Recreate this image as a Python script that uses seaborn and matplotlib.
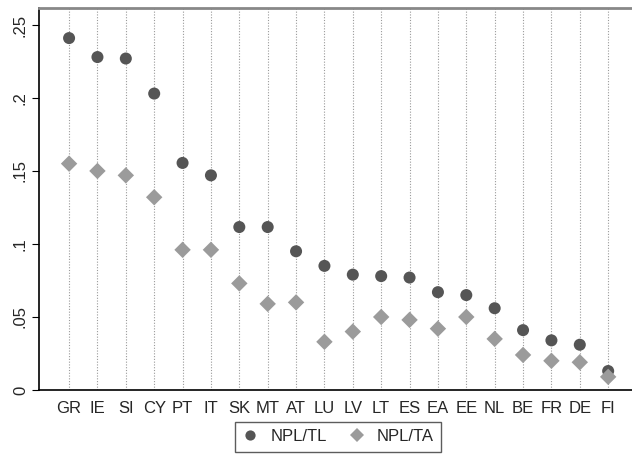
import pandas as pd
import matplotlib
matplotlib.use('Agg')
import matplotlib.pyplot as plt
import seaborn as sns

# 数据
countries = ['GR', 'IE', 'SI', 'CY', 'PT', 'IT', 'SK', 'MT', 'AT', 'LU',
             'LV', 'LT', 'ES', 'EA', 'EE', 'NL', 'BE', 'FR', 'DE', 'FI']
npl_tl = [0.241, 0.228, 0.227, 0.203, 0.1555, 0.147, 0.1116, 0.1116, 0.095, 0.085,
          0.079, 0.078, 0.077, 0.067, 0.065, 0.056, 0.041, 0.034, 0.031, 0.013]
npl_ta = [0.155, 0.150, 0.147, 0.132, 0.096, 0.096, 0.073, 0.059, 0.060, 0.033,
          0.040, 0.050, 0.048, 0.042, 0.050, 0.035, 0.024, 0.020, 0.019, 0.009]
yticks = [0, 0.05, 0.1, 0.15, 0.2, 0.25]
ytick_labels = ['0', '.05', '.1', '.15', '.2', '.25']

df = pd.DataFrame({'country': countries, 'NPL/TL': npl_tl, 'NPL/TA': npl_ta})
long_df = df.melt(id_vars='country', var_name='series', value_name='value')
long_df['pos'] = long_df['country'].map({c: i for i, c in enumerate(countries)})

sns.set_style('white')
plt.rcParams['font.family'] = ['Liberation Sans', 'DejaVu Sans']

fig = plt.figure(figsize=(6.32, 4.54), dpi=100)
ax = fig.add_axes([39 / 632, 64 / 454, 593 / 632, 382 / 454])

# 竖向点线
for i in range(len(countries)):
    ax.axvline(i, color='#9a9a9a', linestyle=(0, (1, 1.5)), linewidth=0.8, zorder=0)

sns.scatterplot(data=long_df, x='pos', y='value', hue='series', style='series',
                palette={'NPL/TL': '#555555', 'NPL/TA': '#9b9b9b'},
                markers={'NPL/TL': 'o', 'NPL/TA': 'D'},
                size='series', sizes={'NPL/TL': 75, 'NPL/TA': 70},
                linewidth=0, ax=ax, zorder=3)

ax.set_xlim(-1.06, 19.84)
ax.set_ylim(0, 0.2616)
ax.set_xticks(range(len(countries)))
ax.set_xticklabels(countries, fontsize=12)
ax.set_yticks(yticks)
ax.set_yticklabels(ytick_labels, rotation=90, va='center', fontsize=12)
ax.tick_params(axis='y', left=True, length=5, width=0.8, color='black', pad=3)
ax.tick_params(axis='x', bottom=False, length=0, pad=8)
ax.set_xlabel('')
ax.set_ylabel('')

ax.spines['left'].set_color('black')
ax.spines['left'].set_linewidth(1.2)
ax.spines['bottom'].set_color('black')
ax.spines['bottom'].set_linewidth(1.2)
ax.spines['top'].set_color('#888888')
ax.spines['top'].set_linewidth(2)
ax.spines['right'].set_visible(False)

handles, labels = ax.get_legend_handles_labels()
ax.get_legend().remove()
leg = fig.legend(handles, labels, ncol=2, loc='lower center',
                 bbox_to_anchor=(338 / 632, -0.013), fontsize=12,
                 frameon=True, fancybox=False, edgecolor='#333333',
                 handlelength=1.0, handletextpad=0.7, columnspacing=1.3,
                 borderpad=0.45, markerscale=0.85)
leg.get_frame().set_linewidth(1.0)

fig.savefig('out.png', dpi=100)
